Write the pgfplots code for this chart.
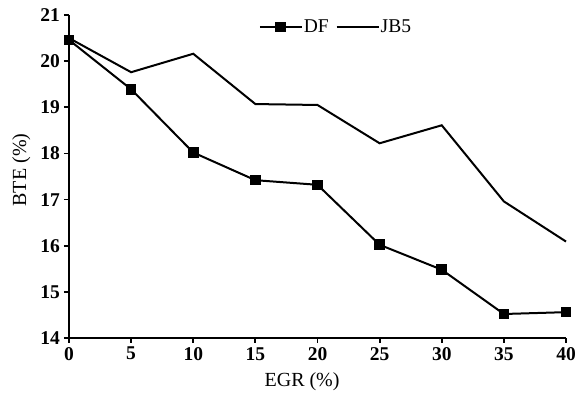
\documentclass[border=0pt]{standalone}
\usepackage{fontspec}
\setmainfont{Liberation Serif}
\usepackage{pgfplots}
\pgfplotsset{compat=1.18}
\begin{document}
\begin{tikzpicture}
\begin{axis}[
  scale only axis,
  width=497pt, height=323pt,
  xmin=0, xmax=40, ymin=14, ymax=21,
  xtick={0,5,...,40}, ytick={14,15,...,21},
  axis lines*=left,
  axis line style={line width=2.2pt},
  tick style={line width=1.8pt, black},
  major tick length=5pt,
  tick align=outside,
  /pgf/number format/assume math mode=true,
  ticklabel style={font=\fontsize{19.5}{19.5}\selectfont\bfseries, inner sep=0pt},
  xticklabel style={yshift=-4pt},
  yticklabel style={xshift=-4pt},
  xlabel={EGR (\%)}, ylabel={BTE (\%)},
  label style={font=\fontsize{20}{20}\selectfont, inner sep=0pt},
  xlabel style={at={(axis description cs:0.469,-0.1517)}, anchor=base},
  ylabel style={at={(axis description cs:-0.0865,0.52)}, anchor=base},
  legend columns=2,
  legend style={draw=none, fill=none, at={(axis description cs:0.536,0.963)}, anchor=center,
    font=\fontsize{19.5}{19.5}\selectfont, inner sep=0pt,
    nodes={inner sep=1pt},
    /tikz/every even column/.append style={column sep=6pt}},
  legend cell align=left,
  legend image code/.code={\draw[mark repeat=2,mark phase=2,#1] plot coordinates {(0pt,0pt) (21pt,0pt) (42pt,0pt)};},
  clip=false,
]
\addplot[black, line width=2pt, mark=square*, mark size=4.3pt, mark options={solid}] coordinates {
  (0,20.46) (5,19.39) (10,18.02) (15,17.42) (20,17.32) (25,16.02) (30,15.48) (35,14.52) (40,14.56)};
\addlegendentry{DF}
\addplot[black, line width=2pt] coordinates {
  (0,20.50) (5,19.76) (10,20.16) (15,19.07) (20,19.05) (25,18.22) (30,18.61) (35,16.96) (40,16.09)};
\addlegendentry{JB5}
\end{axis}
\pgfresetboundingbox
\path (-69pt,-57pt) rectangle (506pt,338pt);
\end{tikzpicture}
\end{document}
